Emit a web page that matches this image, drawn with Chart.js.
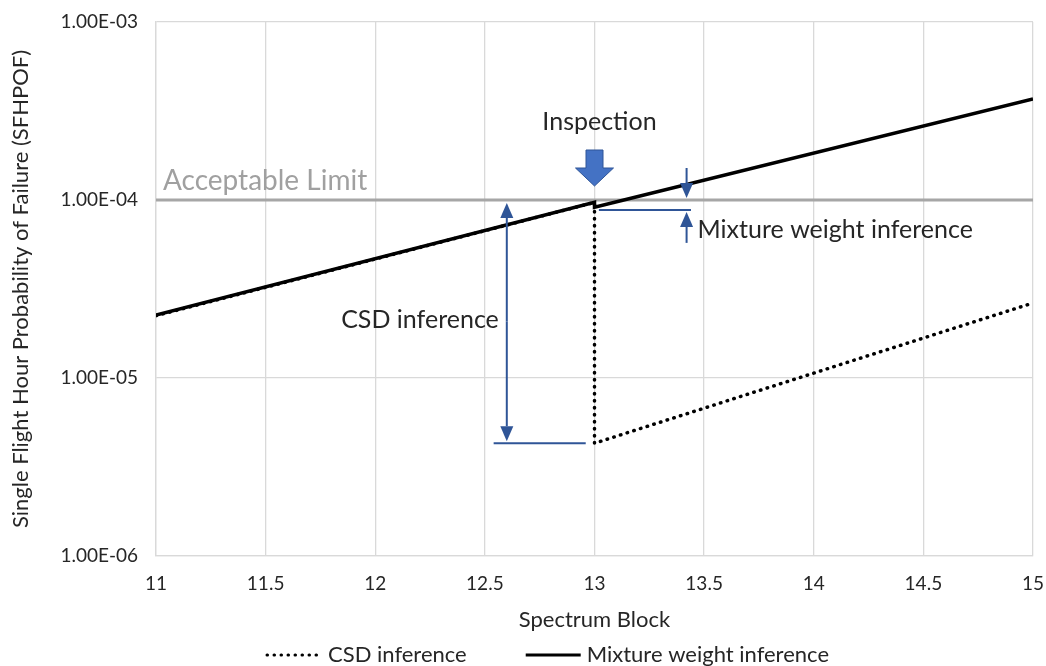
<!DOCTYPE html>
<html>
<head>
<meta charset="utf-8">
<script src="https://cdn.jsdelivr.net/npm/chart.js@4"></script>
<style>
  html, body { margin: 0; padding: 0; background: #fff; }
  #wrap { width: 1046px; height: 666px; }
</style>
</head>
<body>
<div id="wrap"><canvas id="myChart" width="1046" height="666"></canvas></div>
<script>
// data
const csdX = [11, 13, 13, 15];
const csdY = [2.24e-5, 9.7e-5, 4.3e-6, 2.64e-5];
const mixX = [11, 13, 13, 15];
const mixY = [2.26e-5, 9.7e-5, 9.1e-5, 3.69e-4];
const yTicks = [1e-6, 1e-5, 1e-4, 1e-3];
const limitValue = 1e-4;

// annotation anchors (data units)
const inspectX = 13;
const csdArrowX = 12.6;
const csdLow = 4.3e-6;
const mixArrowX = 13.42;
const mixLow = 8.8e-5;

const FONT = 'Lato, "Open Sans", sans-serif';
const TXT = '#262626';
const BLUE = '#2f5597';

function fmtE(v) {
  const e = Math.round(Math.log10(v));
  const m = v / Math.pow(10, e);
  return m.toFixed(2) + 'E' + (e < 0 ? '-' : '+') + String(Math.abs(e)).padStart(2, '0');
}

function arrow(ctx, x1, y1, x2, y2) {
  // line from (x1,y1) to tip (x2,y2)
  const ang = Math.atan2(y2 - y1, x2 - x1);
  const hl = 15, hw = 6.5;
  const bx = x2 - Math.cos(ang) * hl, by = y2 - Math.sin(ang) * hl;
  ctx.beginPath();
  ctx.moveTo(x1, y1);
  ctx.lineTo(bx, by);
  ctx.stroke();
  ctx.beginPath();
  ctx.moveTo(x2, y2);
  ctx.lineTo(bx - Math.sin(ang) * hw, by + Math.cos(ang) * hw);
  ctx.lineTo(bx + Math.sin(ang) * hw, by - Math.cos(ang) * hw);
  ctx.closePath();
  ctx.fill();
}

const limitPlugin = {
  id: 'limit',
  beforeDatasetsDraw(chart) {
    const {ctx, chartArea, scales: {y}} = chart;
    const py = y.getPixelForValue(limitValue);
    ctx.save();
    ctx.strokeStyle = '#a6a6a6';
    ctx.lineWidth = 3;
    ctx.beginPath();
    ctx.moveTo(chartArea.left, py);
    ctx.lineTo(chartArea.right, py);
    ctx.stroke();
    ctx.fillStyle = '#a0a0a0';
    ctx.font = '28px ' + FONT;
    ctx.textBaseline = 'middle';
    ctx.fillText('Acceptable Limit', chartArea.left + 7, py - 19);
    ctx.restore();
  }
};

const notesPlugin = {
  id: 'notes',
  afterDatasetsDraw(chart) {
    const {ctx, scales: {x, y}} = chart;
    const top = y.getPixelForValue(limitValue);
    ctx.save();
    ctx.strokeStyle = BLUE;
    ctx.fillStyle = BLUE;
    ctx.lineWidth = 2;

    // CSD inference
    const cx = x.getPixelForValue(csdArrowX);
    const cLow = y.getPixelForValue(csdLow);
    ctx.beginPath();
    ctx.moveTo(x.getPixelForValue(12.54), cLow);
    ctx.lineTo(x.getPixelForValue(12.96), cLow);
    ctx.stroke();
    arrow(ctx, cx, (top + cLow) / 2, cx, top + 3);
    arrow(ctx, cx, (top + cLow) / 2, cx, cLow - 2);

    // Mixture weight inference
    const mx = x.getPixelForValue(mixArrowX);
    const mLow = y.getPixelForValue(mixLow);
    ctx.beginPath();
    ctx.moveTo(x.getPixelForValue(13.02), mLow);
    ctx.lineTo(x.getPixelForValue(13.44), mLow);
    ctx.stroke();
    arrow(ctx, mx, top - 32, mx, top - 2);
    arrow(ctx, mx, mLow + 33, mx, mLow + 2);

    // Inspection block arrow
    const ix = x.getPixelForValue(inspectX);
    const iTop = top - 50, iTip = top - 14, iNeck = top - 32;
    ctx.fillStyle = '#4472c4';
    ctx.strokeStyle = '#2f5597';
    ctx.lineWidth = 1;
    ctx.beginPath();
    ctx.moveTo(ix - 8.5, iTop);
    ctx.lineTo(ix + 8.5, iTop);
    ctx.lineTo(ix + 8.5, iNeck);
    ctx.lineTo(ix + 19, iNeck);
    ctx.lineTo(ix, iTip);
    ctx.lineTo(ix - 19, iNeck);
    ctx.lineTo(ix - 8.5, iNeck);
    ctx.closePath();
    ctx.fill();
    ctx.stroke();

    ctx.fillStyle = TXT;
    ctx.font = '25px ' + FONT;
    ctx.textBaseline = 'middle';
    ctx.textAlign = 'center';
    ctx.fillText('Inspection', ix + 5, top - 78);
    ctx.textAlign = 'right';
    ctx.fillText('CSD inference', cx - 8, (top + cLow) / 2 - 2);
    ctx.textAlign = 'left';
    ctx.fillText('Mixture weight inference', mx + 11, top + 30);
    ctx.restore();
  }
};

// legend drawn under the axis title, styles taken from the datasets
const legendPlugin = {
  id: 'legendBottom',
  afterDraw(chart) {
    const {ctx} = chart;
    const sample = 55, gapText = 6, gapItem = 59;
    ctx.save();
    ctx.font = '22px ' + FONT;
    const items = chart.data.datasets.map(ds => ({ds, w: sample + gapText + ctx.measureText(ds.label).width}));
    const total = items.reduce((s, it) => s + it.w, 0) + gapItem * (items.length - 1);
    let xx = chart.width / 2 + 25 - total / 2;
    const yy = chart.height - 11;
    items.forEach(it => {
      ctx.strokeStyle = it.ds.borderColor;
      ctx.lineWidth = 3;
      ctx.lineCap = it.ds.borderCapStyle || 'butt';
      ctx.setLineDash(it.ds.borderDash || []);
      ctx.beginPath();
      ctx.moveTo(xx, yy);
      ctx.lineTo(xx + sample, yy);
      ctx.stroke();
      ctx.setLineDash([]);
      ctx.fillStyle = TXT;
      ctx.textBaseline = 'middle';
      ctx.fillText(it.ds.label, xx + sample + gapText, yy);
      xx += it.w + gapItem;
    });
    ctx.restore();
  }
};

const ctx = document.getElementById('myChart');

const myChart = new Chart(ctx, {
  type: 'line',
  data: {
    datasets: [{
      label: 'CSD inference',
      data: csdX.map((v, i) => ({x: v, y: csdY[i]})),
      borderColor: '#000',
      backgroundColor: '#000',
      borderWidth: 3.5,
      borderDash: [0.5, 6.5],
      borderCapStyle: 'round',
      pointRadius: 0,
      tension: 0,
      order: 1
    }, {
      label: 'Mixture weight inference',
      data: mixX.map((v, i) => ({x: v, y: mixY[i]})),
      borderColor: '#000',
      backgroundColor: '#000',
      borderWidth: 3.5,
      pointRadius: 0,
      tension: 0,
      order: 0
    }]
  },
  options: {
    responsive: false,
    animation: false,
    layout: { padding: { left: 8, right: 13, top: 22, bottom: 29 } },
    scales: {
      x: {
        type: 'linear',
        min: 11,
        max: 15,
        afterFit(scale) { scale.paddingRight = 0; scale.paddingLeft = 0; scale.height = 81; },
        ticks: { stepSize: 0.5, color: TXT, font: { family: FONT, size: 19 }, padding: 16, callback: v => String(v) },
        grid: { color: '#d9d9d9', lineWidth: 1.3, drawTicks: false },
        border: { color: '#d9d9d9', width: 1.3 },
        title: { display: true, text: 'Spectrum Block', color: TXT, font: { family: FONT, size: 22 }, padding: { top: 0, bottom: 4 } }
      },
      y: {
        type: 'logarithmic',
        min: 1e-6,
        max: 1e-3,
        afterBuildTicks(scale) { scale.ticks = yTicks.map(v => ({value: v})); },
        afterFit(scale) { scale.width = 148; scale.paddingTop = 0; scale.paddingBottom = 0; },
        ticks: { color: TXT, font: { family: FONT, size: 19 }, padding: 18, callback: v => fmtE(v) },
        grid: { color: '#d9d9d9', lineWidth: 1.3, drawTicks: false },
        border: { color: '#d9d9d9', width: 1.3 },
        title: { display: true, text: 'Single Flight Hour Probability of Failure (SFHPOF)', color: TXT, font: { family: FONT, size: 22 }, padding: 0 }
      }
    },
    plugins: {
      legend: { display: false },
      tooltip: { enabled: false }
    }
  },
  plugins: [limitPlugin, notesPlugin, legendPlugin]
});
</script>
</body>
</html>
